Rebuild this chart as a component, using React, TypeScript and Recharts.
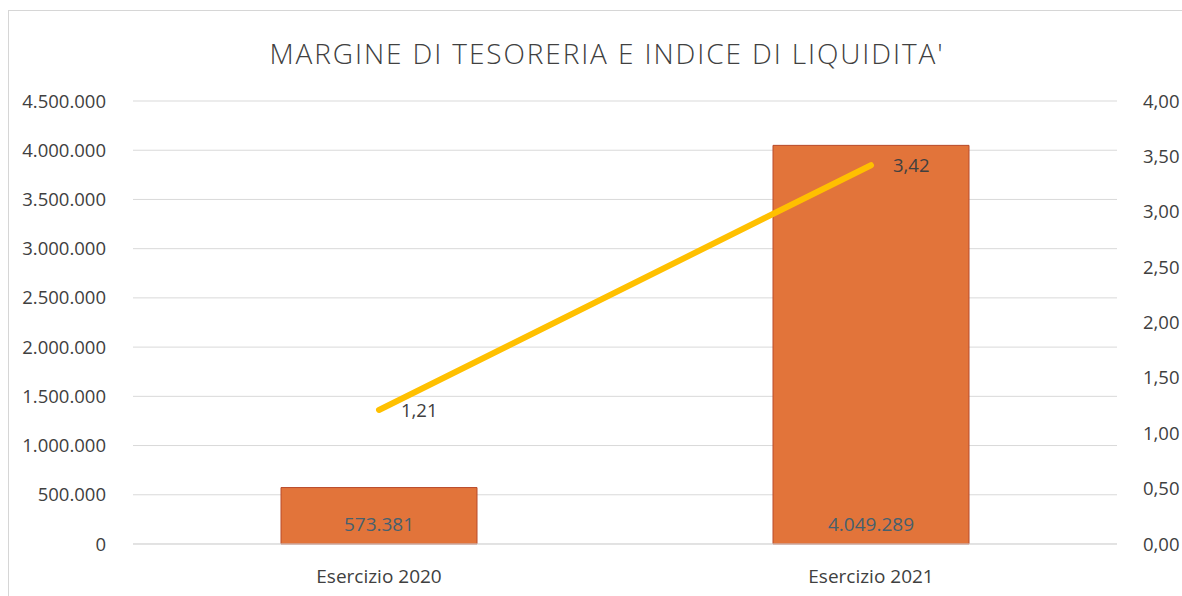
import React from 'react';
import {
  ComposedChart,
  Bar,
  Line,
  XAxis,
  YAxis,
  CartesianGrid,
  LabelList,
} from 'recharts';

const categories = ['Esercizio 2020', 'Esercizio 2021'];
const margineTesoreria = [573381, 4049289];
const indiceLiquidita = [1.21, 3.42];
const leftTicks = [0, 500000, 1000000, 1500000, 2000000, 2500000, 3000000, 3500000, 4000000, 4500000];
const rightTicks = [0, 0.5, 1, 1.5, 2, 2.5, 3, 3.5, 4];

const FONT = '"Open Sans", "Liberation Sans", sans-serif';

const fmtThousands = (v: number) =>
  String(Math.round(v)).replace(/\B(?=(\d{3})+(?!\d))/g, '.');
const fmtDecimal = (v: number) => v.toFixed(2).replace('.', ',');

const data = categories.map((name, i) => ({
  name,
  margine: margineTesoreria[i],
  indice: indiceLiquidita[i],
}));

const App: React.FC = () => {
  return (
    <div
      style={{
        position: 'fixed',
        top: 0,
        left: 0,
        width: 1182,
        height: 596,
        overflow: 'hidden',
        background: '#fff',
        fontFamily: FONT,
      }}
    >
      {/* chart frame */}
      <div
        style={{
          position: 'absolute',
          top: 10,
          left: 8,
          width: 1200,
          height: 600,
          borderTop: '1px solid #d6d6d6',
          borderLeft: '1px solid #d6d6d6',
        }}
      />
      <div
        style={{
          position: 'absolute',
          top: 34,
          left: 32,
          width: 1150,
          textAlign: 'center',
          fontSize: 28,
          letterSpacing: 1.9,
          fontWeight: 300,
          color: '#404040',
        }}
      >
        MARGINE DI TESORERIA E INDICE DI LIQUIDITA'
      </div>
      <div style={{ position: 'absolute', top: 0, left: 0 }}>
        <ComposedChart
          width={1182}
          height={596}
          data={data}
          margin={{ top: 101, right: 5, bottom: 22, left: 18 }}
        >
          <CartesianGrid yAxisId="left" vertical={false} stroke="#d9d9d9" />
          <XAxis
            dataKey="name"
            axisLine={{ stroke: '#d9d9d9' }}
            tickLine={false}
            tickMargin={20}
            height={30}
            tick={{ fontSize: 19, fill: '#404040', fontFamily: FONT }}
          />
          <YAxis
            yAxisId="left"
            orientation="left"
            width={115}
            domain={[0, 4500000]}
            ticks={leftTicks}
            tickFormatter={fmtThousands}
            axisLine={false}
            tickLine={false}
            tickMargin={21}
            tick={{ fontSize: 18.5, fill: '#404040', fontFamily: FONT }}
          />
          <YAxis
            yAxisId="right"
            orientation="right"
            width={60}
            domain={[0, 4]}
            ticks={rightTicks}
            tickFormatter={fmtDecimal}
            axisLine={false}
            tickLine={false}
            tickMargin={20}
            tick={{ fontSize: 18.5, fill: '#404040', fontFamily: FONT }}
          />
          <Bar
            yAxisId="left"
            dataKey="margine"
            fill="#E2743A"
            stroke="#b84a2a"
            strokeWidth={1}
            barSize={196}
            isAnimationActive={false}
          >
            <LabelList
              dataKey="margine"
              position="insideBottom"
              offset={13}
              formatter={(v: number) => fmtThousands(v)}
              style={{ fontSize: 19, fill: '#46606E', fontFamily: FONT }}
            />
          </Bar>
          <Line
            yAxisId="right"
            dataKey="indice"
            stroke="#FFC000"
            strokeWidth={6}
            strokeLinecap="round"
            dot={false}
            activeDot={false}
            isAnimationActive={false}
          >
            <LabelList
              dataKey="indice"
              position="right"
              offset={22}
              formatter={(v: number) => fmtDecimal(v)}
              style={{ fontSize: 18.5, fill: '#404040', fontFamily: FONT }}
            />
          </Line>
        </ComposedChart>
      </div>
    </div>
  );
};

export default App;
